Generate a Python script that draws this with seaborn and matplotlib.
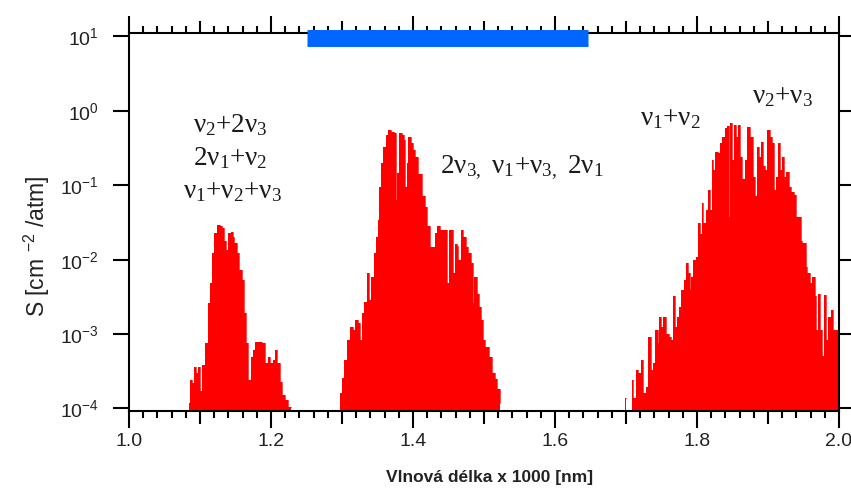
import numpy as np
import pandas as pd
import matplotlib
matplotlib.use("Agg")
import matplotlib.pyplot as plt
import seaborn as sns
from matplotlib.ticker import FixedLocator, FuncFormatter, NullLocator

# ---------------------------------------------------------------------------
# Line-strength envelope of the water vapour overtone/combination bands
# wavelength in micrometres (x 1000 nm), S in cm^-2/atm
# ---------------------------------------------------------------------------
band1_wl = [1.084, 1.087, 1.090, 1.093, 1.096, 1.099, 1.102, 1.104, 1.109, 1.113,
            1.116, 1.118, 1.122, 1.125, 1.130, 1.133, 1.136, 1.138, 1.141, 1.145,
            1.147, 1.150, 1.154, 1.157, 1.160, 1.163, 1.166, 1.170, 1.173, 1.176,
            1.180, 1.185, 1.190, 1.194, 1.197, 1.201, 1.204, 1.207, 1.210, 1.214,
            1.217, 1.222, 1.226, 1.228]
band1_s = [1.2e-4, 2.4e-4, 2.2e-4, 3.6e-4, 3.0e-4, 3.6e-4, 1.7e-4, 3.8e-4, 7.6e-4, 2.6e-3,
           4.9e-3, 1.23e-2, 2.3e-2, 2.95e-2, 2.8e-2, 2.7e-2, 1.8e-2, 1.35e-2, 2.3e-2, 2.35e-2,
           2.0e-2, 1.66e-2, 1.23e-2, 7.2e-3, 5.4e-3, 1.9e-3, 7.6e-4, 2.4e-4, 4.9e-4, 6.2e-4,
           7.9e-4, 7.9e-4, 7.6e-4, 4.1e-4, 4.9e-4, 4.1e-4, 4.5e-4, 6.2e-4, 4.1e-4, 2.3e-4,
           1.5e-4, 1.3e-4, 1.05e-4, 1.05e-4]

band2_wl = [1.297, 1.302, 1.304, 1.309, 1.314, 1.317, 1.321, 1.324, 1.327, 1.330,
            1.333, 1.337, 1.340, 1.343, 1.347, 1.349, 1.351, 1.354, 1.356, 1.360,
            1.363, 1.366, 1.371, 1.375, 1.377, 1.379, 1.382, 1.386, 1.388, 1.390,
            1.392, 1.395, 1.398, 1.402, 1.405, 1.410, 1.415, 1.418, 1.421, 1.426,
            1.429, 1.433, 1.436, 1.439, 1.443, 1.447, 1.449, 1.451, 1.455, 1.457,
            1.460, 1.463, 1.465, 1.469, 1.472, 1.476, 1.478, 1.481, 1.483, 1.485,
            1.488, 1.491, 1.495, 1.497, 1.499, 1.504, 1.509, 1.513, 1.517, 1.521,
            1.523]
band2_s = [1.6e-4, 2.6e-4, 4.5e-4, 8.3e-4, 1.26e-3, 1.15e-3, 1.55e-3, 1.4e-3, 8.3e-4, 1.9e-3,
           2.7e-3, 6.6e-3, 2.9e-3, 5.9e-3, 1.23e-2, 2.0e-2, 3.4e-2, 9.5e-2, 0.20, 0.33,
           0.48, 0.55, 0.52, 0.50, 0.063, 0.145, 0.50, 0.48, 0.41, 0.095,
           0.20, 0.45, 0.37, 0.30, 0.24, 0.14, 0.071, 0.051, 0.028, 0.015,
           0.015, 0.023, 0.028, 0.025, 0.025, 0.025, 4.8e-3, 0.025, 0.025, 6.6e-3,
           0.016, 0.0155, 0.010, 0.025, 0.020, 0.015, 0.0123, 0.0123, 0.0089, 2.6e-3,
           5.9e-3, 3.5e-3, 2.3e-3, 1.55e-3, 8.3e-4, 6.8e-4, 4.9e-4, 3.0e-4, 2.5e-4, 1.8e-4,
           1.2e-4]

line_wl = [1.698, 1.700]
line_s = [1.4e-4, 1.4e-4]

band3_wl = [1.709, 1.712, 1.715, 1.718, 1.723, 1.726, 1.729, 1.734, 1.737, 1.739,
            1.743, 1.746, 1.748, 1.751, 1.753, 1.756, 1.758, 1.762, 1.764, 1.768,
            1.770, 1.773, 1.777, 1.779, 1.784, 1.786, 1.789, 1.791, 1.793, 1.796,
            1.800, 1.803, 1.805, 1.808, 1.810, 1.814, 1.817, 1.819, 1.822, 1.824,
            1.828, 1.831, 1.833, 1.838, 1.841, 1.844, 1.846, 1.848, 1.851, 1.854,
            1.857, 1.859, 1.863, 1.865, 1.869, 1.873, 1.877, 1.880, 1.883, 1.886,
            1.889, 1.891, 1.895, 1.897, 1.901, 1.904, 1.907, 1.910, 1.913, 1.916,
            1.918, 1.921, 1.924, 1.928, 1.931, 1.935, 1.938, 1.940, 1.945, 1.947,
            1.950, 1.952, 1.954, 1.957, 1.960, 1.964, 1.967, 1.969, 1.971, 1.975,
            1.977, 1.980, 1.983, 1.987, 1.991, 1.993, 1.997, 2.000, 2.005]
band3_s = [2.4e-4, 1.4e-4, 3.3e-4, 3.0e-4, 4.5e-4, 1.6e-4, 1.95e-4, 9.1e-4, 3.3e-4, 4.1e-4,
           1.15e-3, 7.6e-4, 1.7e-3, 1.26e-3, 1.7e-3, 1.7e-3, 1.0e-3, 9.1e-4, 8.3e-4, 3.2e-3,
           1.26e-3, 1.7e-3, 2.3e-3, 3.9e-3, 5.4e-3, 8.9e-3, 6.6e-3, 3.9e-3, 5.9e-3, 0.010,
           0.011, 0.031, 0.022, 0.058, 0.031, 0.047, 0.087, 0.047, 0.22, 0.16,
           0.28, 0.27, 0.37, 0.45, 0.59, 0.62, 0.038, 0.68, 0.22, 0.65,
           0.45, 0.65, 0.24, 0.12, 0.22, 0.60, 0.45, 0.13, 0.071, 0.33,
           0.24, 0.38, 0.18, 0.16, 0.55, 0.45, 0.37, 0.087, 0.13, 0.37,
           0.16, 0.24, 0.13, 0.15, 0.095, 0.081, 0.074, 0.038, 0.038, 0.018,
           0.0166, 0.0166, 7.9e-3, 6.6e-3, 4.8e-3, 5.9e-3, 3.2e-3, 1.15e-3, 3.5e-3, 1.15e-3,
           5.0e-4, 3.4e-3, 8.3e-4, 1.7e-3, 2.1e-3, 1.15e-3, 1.15e-3, 9.1e-4, 9.1e-4]

# spectral window marked by the bar along the top edge
window_range = [1.25, 1.647]

band_labels = [
    ("\u03bd$_2$+2\u03bd$_3$", 1.143, 0.646),
    ("2\u03bd$_1$+\u03bd$_2$", 1.142, 0.233),
    ("\u03bd$_1$+\u03bd$_2$+\u03bd$_3$", 1.146, 0.081),
    ("2\u03bd$_{3,}$ \u03bd$_1$+\u03bd$_{3,}$ 2\u03bd$_1$", 1.553, 0.17),
    ("\u03bd$_1$+\u03bd$_2$", 1.762, 0.80),
    ("\u03bd$_2$+\u03bd$_3$", 1.921, 1.54),
]

x_ticks = [1.0, 1.1, 1.2, 1.3, 1.4, 1.5, 1.6, 1.7, 1.8, 1.9, 2.0]
y_ticks = [1e-4, 1e-3, 1e-2, 1e-1, 1e0, 1e1]

bands = pd.concat([
    pd.DataFrame({"wl": band1_wl, "S": band1_s, "band": "b1"}),
    pd.DataFrame({"wl": band2_wl, "S": band2_s, "band": "b2"}),
    pd.DataFrame({"wl": line_wl, "S": line_s, "band": "b3a"}),
    pd.DataFrame({"wl": band3_wl, "S": band3_s, "band": "b3"}),
], ignore_index=True)

# ---------------------------------------------------------------------------
sns.set_theme(style="ticks")
plt.rcParams["font.family"] = ["Liberation Sans", "DejaVu Sans"]
plt.rcParams["mathtext.default"] = "regular"
plt.rcParams["axes.unicode_minus"] = False

fig = plt.figure(figsize=(8.51, 4.93), dpi=100)
ax = fig.add_axes([129 / 851, (493 - 411) / 493, 710 / 851, 378 / 493])
ax.set_yscale("log")

red = "#ff0000"
for name, grp in bands.groupby("band", sort=False):
    ax.fill_between(grp["wl"], grp["S"], 1e-6, step="mid", color=red,
                    linewidth=0, zorder=2)
sns.lineplot(data=bands, x="wl", y="S", units="band", estimator=None,
             drawstyle="steps-mid", color=red, linewidth=0.5,
             sort=False, ax=ax, zorder=2.1, legend=False)

# window bar
ax.plot(window_range, [10 ** 0.976] * 2, color="#0066ff", linewidth=12.2,
        solid_capstyle="butt", clip_on=False, zorder=4)

# band assignments
for txt, x, y in band_labels:
    ax.text(x, y, txt, ha="center", va="center", fontsize=19.5,
            family=["Liberation Serif", "DejaVu Serif"], color="#1a1a1a")

ax.set_xlim(1.0, 2.0)
ax.set_ylim(10 ** -4.034, 10 ** 1.047)

# axes frame and ticks
for sp in ax.spines.values():
    sp.set_visible(True)
    sp.set_linewidth(1.5)
    sp.set_color("black")

ax.xaxis.set_major_locator(FixedLocator(x_ticks))
ax.xaxis.set_major_formatter(FuncFormatter(
    lambda v, pos: f"{v:.1f}" if round(v * 10) % 2 == 0 else ""))
ax.xaxis.set_minor_locator(FixedLocator(np.round(np.arange(1.0, 2.001, 0.02), 3)))
ax.yaxis.set_major_locator(FixedLocator(y_ticks))
ax.yaxis.set_minor_locator(NullLocator())

ax.tick_params(axis="both", which="both", direction="out", top=True, right=True,
               width=1.5, color="black", labelcolor="#222222")
ax.tick_params(axis="x", which="major", length=12, pad=4, labelsize=14)
ax.tick_params(axis="x", which="minor", length=5)
ax.tick_params(axis="y", which="major", length=11.5, pad=10, labelsize=14)

for i, t in enumerate(ax.xaxis.get_major_ticks()):
    if i % 2 == 1:
        t.tick1line.set_markersize(9)
        t.tick2line.set_markersize(9)

ax.set_xlabel("Vlnová délka x 1000 [nm]", fontsize=12.5, fontweight="bold",
              color="#222222")
ax.xaxis.set_label_coords(0.508, -0.175)
ax.xaxis.label.set_va("center")
ax.set_ylabel("S [cm $^{-2}$ /atm]", fontsize=16.5, color="#222222")
ax.yaxis.set_label_coords(-0.13, 0.437)
ax.yaxis.label.set_va("center")

fig.savefig("out.png", dpi=100)
